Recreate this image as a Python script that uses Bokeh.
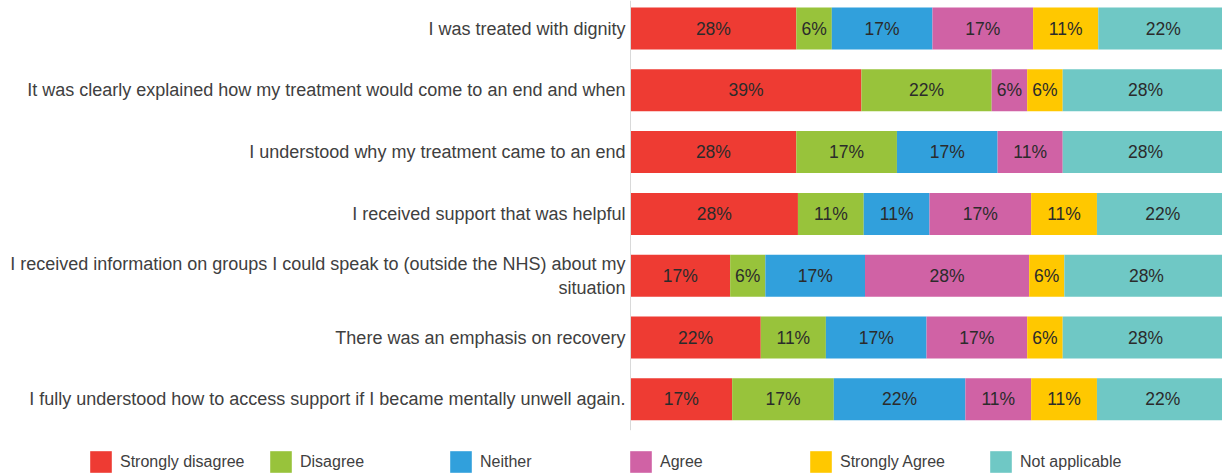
from bokeh.plotting import figure
from bokeh.models import ColumnDataSource, Legend, LegendItem, Range1d
from bokeh.core.properties import value
from bokeh.embed import file_html
from bokeh.resources import INLINE

questions = [
    "I was treated with dignity",
    "It was clearly explained how my treatment would come to an end and when",
    "I understood why my treatment came to an end",
    "I received support that was helpful",
    "I received information on groups I could speak to (outside the NHS) about my\nsituation",
    "There was an emphasis on recovery",
    "I fully understood how to access support if I became mentally unwell again.",
]
series = ["Strongly disagree", "Disagree", "Neither", "Agree", "Strongly Agree", "Not applicable"]
colors = ["#ee3b33", "#98c33b", "#31a0dc", "#d062a5", "#ffc800", "#6fc8c5"]

strongly_disagree = [28, 39, 28, 28, 17, 22, 17]
disagree = [6, 22, 17, 11, 6, 11, 17]
neither = [17, 0, 17, 11, 17, 17, 22]
agree = [17, 6, 11, 17, 28, 17, 11]
strongly_agree = [11, 6, 0, 11, 6, 6, 11]
not_applicable = [22, 28, 28, 22, 28, 28, 22]

all_series = [strongly_disagree, disagree, neither, agree, strongly_agree, not_applicable]

W, H = 1222, 475
ROW = 61.8
TOP = 28
X0 = 630
PX_PER_PCT = 5.98

p = figure(width=W, height=H, output_backend="svg", toolbar_location=None,
           x_range=Range1d(-X0 / PX_PER_PCT, (W - X0) / PX_PER_PCT),
           y_range=Range1d((H - TOP) / ROW, -TOP / ROW),
           min_border=0, outline_line_color=None)
p.axis.visible = False
p.grid.visible = False
p.background_fill_color = "white"
p.border_fill_color = "white"

n = len(questions)
rows = list(range(n))
totals = [sum(s[i] for s in all_series) for i in rows]
lefts = [0.0] * n
items = []
lab_x, lab_y, lab_t = [], [], []
for name, color, vals in zip(series, colors, all_series):
    widths = [vals[i] / totals[i] * 100 for i in rows]
    rights = [lefts[i] + widths[i] for i in rows]
    src = ColumnDataSource(dict(y=rows, left=lefts, right=rights))
    r = p.hbar(y="y", left="left", right="right", height=0.68, source=src,
               fill_color=color, line_color=None)
    items.append(LegendItem(label=name, renderers=[r]))
    for i in rows:
        if vals[i] > 0:
            lab_x.append((lefts[i] + rights[i]) / 2)
            lab_y.append(i)
            lab_t.append(f"{vals[i]}%")
    lefts = rights

p.text(x=lab_x, y=lab_y, text=lab_t, text_align="center", text_baseline="middle",
       text_font=value("Liberation Sans"), text_font_size="17.5px", text_color="#2b2b2b")

# category labels
p.text(x=[-5 / PX_PER_PCT] * n, y=rows, text=questions, text_align="right", text_baseline="middle",
       text_font=value("Liberation Sans"), text_font_size="18px", text_color="#404040",
       text_line_height=1.2)

# vertical axis line
p.segment(x0=[0], y0=[-TOP / ROW], x1=[0], y1=[n - 0.5], line_color="#d9d9d9", line_width=1)

legend = Legend(items=items, orientation="horizontal", location=(87, 0),
                glyph_width=27, glyph_height=27, label_standoff=6, label_width=140,
                spacing=7, padding=0, margin=0, border_line_color=None,
                background_fill_alpha=0,
                label_text_font="Liberation Sans", label_text_font_size="16px",
                label_text_color="#404040")
p.add_layout(legend, "center")

open("out.html", "w").write(file_html(p, INLINE))
